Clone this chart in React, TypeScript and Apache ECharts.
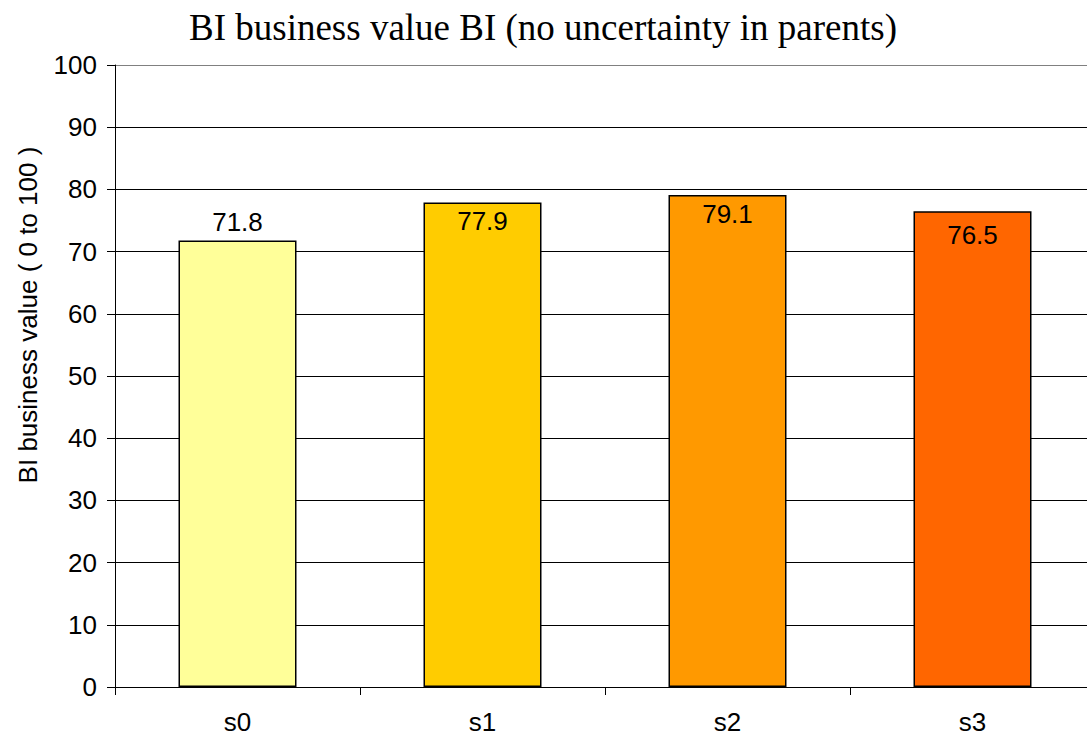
import React, { useEffect, useRef } from "react";
import * as echarts from "echarts";

const categories = ["s0", "s1", "s2", "s3"];
const values = [71.8, 77.9, 79.1, 76.5];
const barColors = ["#FFFF99", "#FFCC00", "#FF9900", "#FF6600"];
const labelOffsets = [-18, 19, 19, 24];
const titleText = "BI business value BI (no uncertainty in parents)";
const yAxisName = "BI business value ( 0 to 100 )";

export default function App() {
  const ref = useRef<HTMLDivElement>(null);
  useEffect(() => {
    if (!ref.current) return;
    const chart = echarts.init(ref.current, null, { renderer: "svg" });
    const splitColors = [] as string[];
    for (let i = 0; i < 10; i++) splitColors.push("#000000");
    splitColors.push("#808080");
    chart.setOption({
      animation: false,
      backgroundColor: "#ffffff",
      title: {
        text: titleText,
        left: 538,
        textAlign: "center",
        top: 4,
        textStyle: {
          fontFamily: "Liberation Serif",
          fontWeight: "normal",
          fontSize: 37,
          color: "#000",
        },
      },
      graphic: [
        {
          type: "text",
          x: 28,
          y: 315,
          rotation: Math.PI / 2,
          style: {
            text: yAxisName,
            fontFamily: "Liberation Sans",
            fontSize: 26,
            fill: "#000",
            textAlign: "center",
            textVerticalAlign: "middle",
          },
        },
      ],
      grid: { left: 115, top: 65, bottom: 50, right: 5 },
      xAxis: {
        type: "category",
        data: categories,
        axisLine: { lineStyle: { color: "#000", width: 1 } },
        axisTick: { show: true, length: 8, alignWithLabel: false, lineStyle: { color: "#000" } },
        axisLabel: {
          fontFamily: "Liberation Sans",
          fontSize: 26,
          color: "#000",
          margin: 22,
        },
      },
      yAxis: {
        type: "value",
        min: 0,
        max: 100,
        interval: 10,
        axisLine: { show: true, lineStyle: { color: "#000", width: 1 } },
        axisTick: { show: true, length: 8, lineStyle: { color: "#000" } },
        axisLabel: {
          fontFamily: "Liberation Sans",
          fontSize: 26,
          color: "#000",
          margin: 18,
        },
        splitLine: { show: true, lineStyle: { color: splitColors, width: 1 } },
      },
      series: [
        {
          type: "bar",
          barWidth: 118,
          data: values.map((v, i) => ({
            value: v,
            itemStyle: { color: barColors[i], borderColor: "#000", borderWidth: 1.5 },
            label: {
              show: true,
              position: ["50%", labelOffsets[i]],
              align: "center",
              verticalAlign: "middle",
              fontFamily: "Liberation Sans",
              fontSize: 26,
              color: "#000",
              formatter: (p: any) => p.value.toFixed(1),
            },
          })),
        },
      ],
    });
    return () => chart.dispose();
  }, []);
  return (
    <div style={{ position: "fixed", left: 0, top: 0, width: 1087, height: 737, overflow: "hidden" }}>
      <div ref={ref} style={{ width: 1100, height: 737 }} />
    </div>
  );
}
